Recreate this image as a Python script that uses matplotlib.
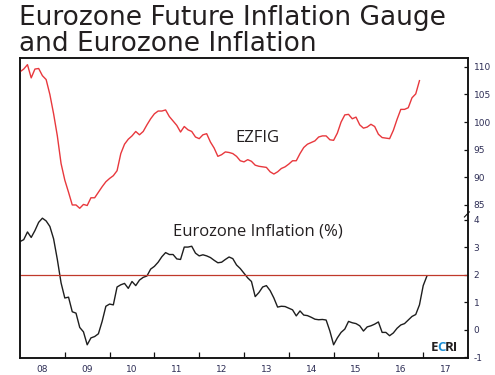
import matplotlib
matplotlib.use("Agg")
import matplotlib.pyplot as plt
import numpy as np
import pandas as pd
from matplotlib.lines import Line2D

# monthly readings, starting Jan 2008
ezfig = [109.1, 109.6, 110.4, 108.0, 109.6, 109.7, 108.4, 107.7, 105.0, 101.5,
         97.5, 92.5, 89.5, 87.3, 85.0, 85.0, 84.4, 85.1, 84.9, 86.3,
         86.3, 87.3, 88.3, 89.2, 89.8, 90.3, 91.2, 94.3, 96.0, 96.9,
         97.5, 98.3, 97.7, 98.3, 99.5, 100.6, 101.5, 102.0, 102.0, 102.2,
         101.0, 100.2, 99.4, 98.2, 99.2, 98.6, 98.3, 97.3, 97.0, 97.7,
         97.9, 96.4, 95.3, 93.8, 94.1, 94.6, 94.5, 94.3, 93.8, 93.0,
         92.8, 93.2, 92.9, 92.2, 92.0, 91.9, 91.8, 91.0, 90.6, 91.0,
         91.6, 91.9, 92.4, 93.0, 93.0, 94.3, 95.4, 96.0, 96.3, 96.6,
         97.3, 97.5, 97.5, 96.8, 96.7, 98.0, 100.0, 101.3, 101.4, 100.6,
         100.9, 99.5, 98.9, 99.1, 99.6, 99.2, 97.8, 97.2, 97.1, 97.0,
         98.5, 100.5, 102.3, 102.3, 102.6, 104.4, 105.1, 107.5]

inflation = [3.2, 3.27, 3.55, 3.35, 3.6, 3.9, 4.05, 3.95, 3.75, 3.3,
             2.55, 1.7, 1.15, 1.18, 0.65, 0.6, 0.08, -0.08, -0.55, -0.3,
             -0.25, -0.15, 0.3, 0.85, 0.93, 0.9, 1.55, 1.63, 1.68, 1.5,
             1.75, 1.6, 1.8, 1.9, 1.95, 2.2, 2.3, 2.45, 2.65, 2.8,
             2.73, 2.73, 2.57, 2.55, 3.0, 3.0, 3.03, 2.78, 2.68, 2.72,
             2.68, 2.62, 2.52, 2.43, 2.45, 2.55, 2.64, 2.58, 2.35, 2.22,
             2.05, 1.88, 1.75, 1.2, 1.35, 1.55, 1.6, 1.42, 1.15, 0.82,
             0.85, 0.84, 0.78, 0.72, 0.5, 0.68, 0.53, 0.51, 0.45, 0.38,
             0.36, 0.37, 0.35, -0.05, -0.55, -0.3, -0.1, 0.02, 0.3, 0.25,
             0.22, 0.14, -0.05, 0.1, 0.14, 0.2, 0.28, -0.1, -0.1, -0.22,
             -0.12, 0.05, 0.17, 0.22, 0.35, 0.48, 0.55, 0.9, 1.6, 1.95]

year_labels = ["08", "09", "10", "11", "12", "13", "14", "15", "16", "17"]
ezfig_ticks = [85, 90, 95, 100, 105, 110]
infl_ticks = [-1, 0, 1, 2, 3, 4]

t_ez = 2008 + np.arange(len(ezfig)) / 12
t_in = 2008 + np.arange(len(inflation)) / 12

txt = "#231f20"
lab = "#2d2d55"

fig = plt.figure(figsize=(4.95, 3.75), dpi=100)
ax = fig.add_axes([20 / 495, 17 / 375, 448 / 495, 300 / 375])
ax2 = ax.twinx()

ax.plot(t_in, inflation, color="#1e1e1e", lw=1.0)
ax.axhline(2, color="#c0392b", lw=0.9)
ax2.plot(t_ez, ezfig, color="#e8383d", lw=1.0)

ax.set_xlim(2008, 2018)
ax.set_ylim(-1.03, 9.87)
ax2.set_ylim(57.3, 111.6)

ax.set_xticks(np.arange(2009, 2018))
ax.set_xticks(np.arange(2008, 2018) + 0.5, minor=True)
ax.set_xticklabels([])
ax.set_xticklabels(year_labels, minor=True)
ax.tick_params(axis="x", which="major", direction="in", length=4, width=0.9, color="#111")
ax.tick_params(axis="x", which="minor", length=0, pad=5, labelsize=6.5, labelcolor=lab)

ax.yaxis.tick_right()
ax.set_yticks(infl_ticks)
ax.set_yticklabels([str(v) for v in infl_ticks])
ax2.set_yticks(ezfig_ticks)
for a in (ax, ax2):
    a.tick_params(axis="y", direction="in", length=3, width=0.9, color="#111",
                  pad=4, labelsize=6.5, labelcolor=lab)
    for s in a.spines.values():
        s.set_linewidth(1.1)
        s.set_color("#111")

# axis break mark
ax.add_line(Line2D([0.992, 1.003], [0.47, 0.487], transform=ax.transAxes,
                   color="#111", lw=0.8, clip_on=False))

ax.text(0.529, 0.735, "EZFIG", transform=ax.transAxes, ha="center", va="center",
        fontsize=12, family="Open Sans", color=txt)
ax.text(0.531, 0.42, "Eurozone Inflation (%)", transform=ax.transAxes,
        ha="center", va="center", fontsize=12, family="Open Sans", color=txt)

# ECRI logo: E, blue C, RI chained one after the other
logo = dict(fontsize=9.5, weight="bold", family="Open Sans", va="bottom", ha="left")
e = fig.text(431 / 495, 21 / 375, "E", color=txt, **logo)
c = ax.annotate("C", xy=(1, 0), xycoords=e, xytext=(-0.9, 0),
                textcoords="offset points", color="#1d8fd6", **logo)
ax.annotate("RI", xy=(1, 0), xycoords=c, xytext=(-0.4, 0),
            textcoords="offset points", color=txt, **logo)

fig.text(19 / 495, 1 - 5 / 375, "Eurozone Future Inflation Gauge\nand Eurozone Inflation",
         ha="left", va="top", fontsize=19, family="DejaVu Sans",
         color=txt, linespacing=1.0)

fig.savefig("out.png", dpi=100)
